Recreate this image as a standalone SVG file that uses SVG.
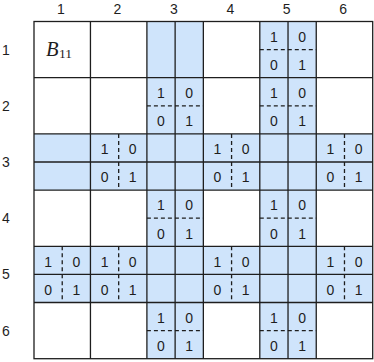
<svg xmlns="http://www.w3.org/2000/svg" width="374" height="362" viewBox="0 0 374 362">
<style>
.bg{fill:#ffffff}
.sh{fill:#cfe4fb;stroke:none}
.ln{stroke:#1e1e1e;stroke-width:1.3;fill:none}
.ds{stroke:#1e1e1e;stroke-width:1.3;fill:none;stroke-dasharray:4 3}
.d{font-family:"Liberation Sans",Arial,sans-serif;font-size:14px;fill:#1e1e1e;text-anchor:middle}
.lb{font-family:"Liberation Sans",Arial,sans-serif;font-size:14px;fill:#1e1e1e;text-anchor:middle}
.m{font-family:"Liberation Serif","DejaVu Serif",serif;fill:#1e1e1e}
</style>
<defs>
<g id="mat">
<text class="d" x="14.1" y="20.3">1</text>
<text class="d" x="42.3" y="20.3">0</text>
<text class="d" x="14.1" y="48.6">0</text>
<text class="d" x="42.3" y="48.6">1</text>
</g>
</defs>
<rect class="bg" x="0" y="0" width="374" height="362"/>
<g id="labels">
<text class="lb" x="61" y="13.6">1</text>
<text class="lb" x="117.4" y="13.6">2</text>
<text class="lb" x="173.8" y="13.6">3</text>
<text class="lb" x="230.3" y="13.6">4</text>
<text class="lb" x="286.7" y="13.6">5</text>
<text class="lb" x="343.2" y="13.6">6</text>
<text class="lb" x="5.8" y="54.6">1</text>
<text class="lb" x="5.8" y="110.8">2</text>
<text class="lb" x="5.8" y="167">3</text>
<text class="lb" x="5.8" y="223.2">4</text>
<text class="lb" x="5.8" y="279.4">5</text>
<text class="lb" x="5.8" y="335.6">6</text>
</g>
<g id="shading">
<rect class="sh" x="146.9" y="21.5" width="56.45" height="337.2"/>
<rect class="sh" x="259.8" y="21.5" width="56.45" height="337.2"/>
<rect class="sh" x="34" y="133.9" width="338.7" height="56.2"/>
<rect class="sh" x="34" y="246.3" width="338.7" height="56.2"/>
</g>
<g id="cell-1-1">
<text class="m" x="46" y="55.5" font-size="20.5" font-style="italic">B<tspan font-size="13.5" font-style="normal" dy="2" dx="0.5">11</tspan></text>
</g>
<g id="cell-1-5" transform="translate(259.8,21.5)"><line class="ds" x1="0" y1="28.1" x2="56.45" y2="28.1"/><use href="#mat"/></g>
<g id="cell-2-3" transform="translate(146.9,77.7)"><line class="ds" x1="0" y1="28.1" x2="56.45" y2="28.1"/><use href="#mat"/></g>
<g id="cell-2-5" transform="translate(259.8,77.7)"><line class="ds" x1="0" y1="28.1" x2="56.45" y2="28.1"/><use href="#mat"/></g>
<g id="cell-3-2" transform="translate(90.45,133.9)"><line class="ds" x1="28.225" y1="0" x2="28.225" y2="56.2"/><use href="#mat"/></g>
<g id="cell-3-4" transform="translate(203.35,133.9)"><line class="ds" x1="28.225" y1="0" x2="28.225" y2="56.2"/><use href="#mat"/></g>
<g id="cell-3-6" transform="translate(316.25,133.9)"><line class="ds" x1="28.225" y1="0" x2="28.225" y2="56.2"/><use href="#mat"/></g>
<g id="cell-4-3" transform="translate(146.9,190.1)"><line class="ds" x1="0" y1="28.1" x2="56.45" y2="28.1"/><use href="#mat"/></g>
<g id="cell-4-5" transform="translate(259.8,190.1)"><line class="ds" x1="0" y1="28.1" x2="56.45" y2="28.1"/><use href="#mat"/></g>
<g id="cell-5-1" transform="translate(34,246.3)"><line class="ds" x1="28.225" y1="0" x2="28.225" y2="56.2"/><use href="#mat"/></g>
<g id="cell-5-2" transform="translate(90.45,246.3)"><line class="ds" x1="28.225" y1="0" x2="28.225" y2="56.2"/><use href="#mat"/></g>
<g id="cell-5-4" transform="translate(203.35,246.3)"><line class="ds" x1="28.225" y1="0" x2="28.225" y2="56.2"/><use href="#mat"/></g>
<g id="cell-5-6" transform="translate(316.25,246.3)"><line class="ds" x1="28.225" y1="0" x2="28.225" y2="56.2"/><use href="#mat"/></g>
<g id="cell-6-3" transform="translate(146.9,302.5)"><line class="ds" x1="0" y1="28.1" x2="56.45" y2="28.1"/><use href="#mat"/></g>
<g id="cell-6-5" transform="translate(259.8,302.5)"><line class="ds" x1="0" y1="28.1" x2="56.45" y2="28.1"/><use href="#mat"/></g>
<g id="grid-lines">
<line class="ln" x1="175.125" y1="21.5" x2="175.125" y2="358.7"/>
<line class="ln" x1="288.025" y1="21.5" x2="288.025" y2="358.7"/>
<line class="ln" x1="34" y1="162" x2="372.7" y2="162"/>
<line class="ln" x1="34" y1="274.4" x2="372.7" y2="274.4"/>
<line class="ln" x1="90.45" y1="21.5" x2="90.45" y2="358.7"/>
<line class="ln" x1="146.9" y1="21.5" x2="146.9" y2="358.7"/>
<line class="ln" x1="203.35" y1="21.5" x2="203.35" y2="358.7"/>
<line class="ln" x1="259.8" y1="21.5" x2="259.8" y2="358.7"/>
<line class="ln" x1="316.25" y1="21.5" x2="316.25" y2="358.7"/>
<line class="ln" x1="34" y1="77.7" x2="372.7" y2="77.7"/>
<line class="ln" x1="34" y1="133.9" x2="372.7" y2="133.9"/>
<line class="ln" x1="34" y1="190.1" x2="372.7" y2="190.1"/>
<line class="ln" x1="34" y1="246.3" x2="372.7" y2="246.3"/>
<line class="ln" x1="34" y1="302.5" x2="372.7" y2="302.5"/>
<rect class="ln" x="34" y="21.5" width="338.7" height="337.2"/>
</g>
</svg>
